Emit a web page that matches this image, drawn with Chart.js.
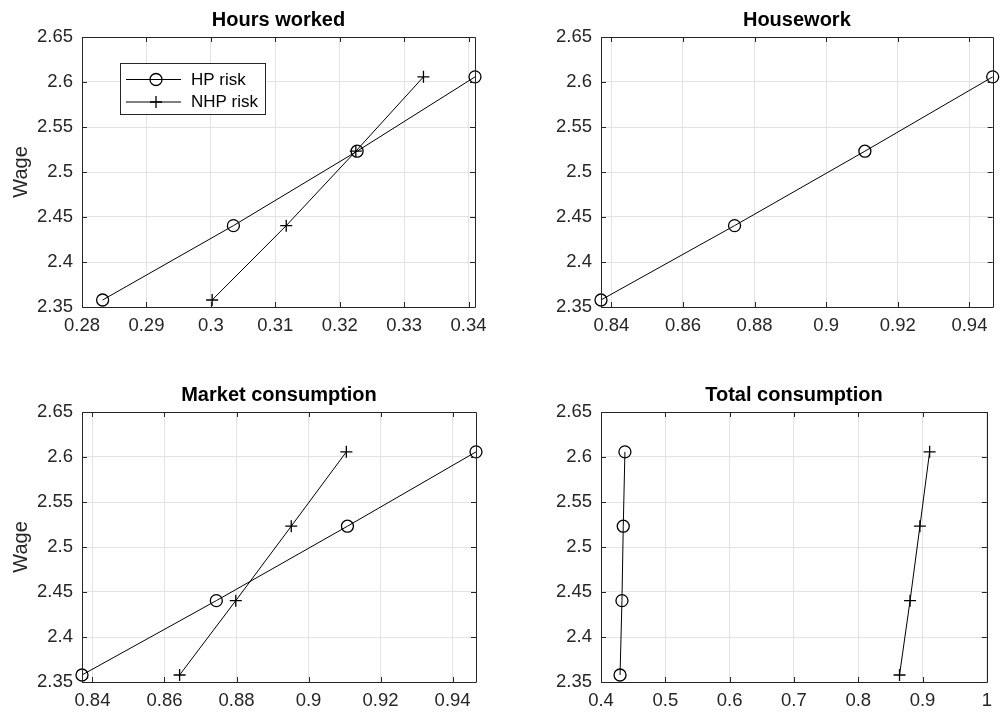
<!DOCTYPE html>
<html>
<head>
<meta charset="utf-8">
<script src="https://cdn.jsdelivr.net/npm/chart.js@4/dist/chart.umd.min.js"></script>
<style>
html,body{margin:0;padding:0;background:#fff;}
#wrap{position:relative;width:1000px;height:714px;overflow:hidden;background:#fff;}
canvas{position:absolute;}
</style>
</head>
<body>
<div id="wrap">
<canvas id="c1" width="500" height="339" style="left:0;top:0"></canvas>
<canvas id="c2" width="500" height="339" style="left:500px;top:0"></canvas>
<canvas id="c3" width="500" height="339" style="left:0;top:375px"></canvas>
<canvas id="c4" width="500" height="339" style="left:500px;top:375px"></canvas>
</div>
<script>
// ---- data ----
const wage = [2.3578, 2.4404, 2.5231, 2.6057];
const hoursHP = [0.2832, 0.3035, 0.3227, 0.3410];
const hoursNHP = [0.3002, 0.3117, 0.3225, 0.3330];
const houseworkHP = [0.8371, 0.8744, 0.9108, 0.9465];
const marketHP = [0.8371, 0.8744, 0.9108, 0.9465];
const marketNHP = [0.8642, 0.8798, 0.8952, 0.9105];
const totalHP = [0.4296, 0.4326, 0.4346, 0.4372];
const totalNHP = [0.8642, 0.8806, 0.8959, 0.9110];

const wageTicks = [2.35, 2.4, 2.45, 2.5, 2.55, 2.6, 2.65];
const hoursTicks = [0.28, 0.29, 0.30, 0.31, 0.32, 0.33, 0.34];
const houseTicks = [0.84, 0.86, 0.88, 0.90, 0.92, 0.94];
const marketTicks = [0.84, 0.86, 0.88, 0.90, 0.92, 0.94];
const totalTicks = [0.4, 0.5, 0.6, 0.7, 0.8, 0.9, 1.0];

const titles = ['Hours worked', 'Housework', 'Market consumption', 'Total consumption'];
const seriesNames = ['HP risk', 'NHP risk'];

const FONT = '"Liberation Sans", Arial, Helvetica, sans-serif';
const AXC = '#262626';

function pts(xs) { return xs.map((x, i) => ({x: x, y: wage[i]})); }

function hpSet(xs) {
  return {label: seriesNames[0], data: pts(xs), showLine: true, borderColor: '#000', borderWidth: 1,
    pointStyle: 'circle', pointRadius: 6, pointBorderWidth: 1.3, pointBorderColor: '#000',
    pointBackgroundColor: 'rgba(0,0,0,0)', clip: false};
}
function nhpSet(xs) {
  return {label: seriesNames[1], data: pts(xs), showLine: true, borderColor: '#000', borderWidth: 1,
    pointStyle: 'cross', pointRadius: 6, pointBorderWidth: 1.3, pointBorderColor: '#000',
    pointBackgroundColor: 'rgba(0,0,0,0)', clip: false};
}

const fmt = v => String(+(+v).toFixed(4));

const boxPlugin = {
  id: 'matlabBox',
  afterDraw(chart, args, opts) {
    const {ctx, chartArea: a, scales} = chart;
    ctx.save();
    ctx.strokeStyle = AXC;
    ctx.lineWidth = 1;
    ctx.beginPath();
    ctx.rect(Math.round(a.left) + 0.5, Math.round(a.top) + 0.5, Math.round(a.right - a.left), Math.round(a.bottom - a.top));
    ctx.stroke();
    const tl = 5;
    ctx.beginPath();
    scales.x.ticks.forEach(t => {
      const px = Math.round(scales.x.getPixelForValue(t.value)) + 0.5;
      ctx.moveTo(px, a.bottom); ctx.lineTo(px, a.bottom - tl);
      ctx.moveTo(px, a.top); ctx.lineTo(px, a.top + tl);
    });
    scales.y.ticks.forEach(t => {
      const py = Math.round(scales.y.getPixelForValue(t.value)) + 0.5;
      ctx.moveTo(a.left, py); ctx.lineTo(a.left + tl, py);
      ctx.moveTo(a.right, py); ctx.lineTo(a.right - tl, py);
    });
    ctx.stroke();
    // title
    ctx.fillStyle = '#000';
    ctx.font = 'bold 20px ' + FONT;
    ctx.textAlign = 'center';
    ctx.textBaseline = 'middle';
    ctx.fillText(opts.title, (a.left + a.right) / 2, opts.titleY);
    // legend
    if (opts.legend) {
      const L = opts.legend;
      ctx.fillStyle = '#fff';
      ctx.fillRect(L.x, L.y, L.w, L.h);
      ctx.strokeStyle = '#262626';
      ctx.strokeRect(L.x + 0.5, L.y + 0.5, L.w, L.h);
      const rows = [L.y + 16, L.y + 38.5];
      ctx.strokeStyle = '#000';
      ctx.lineWidth = 1;
      rows.forEach((ry, i) => {
        ctx.beginPath();
        ctx.moveTo(L.x + 6, ry + 0.5); ctx.lineTo(L.x + 61, ry + 0.5);
        ctx.stroke();
        ctx.lineWidth = 1.3;
        ctx.beginPath();
        const mx = L.x + 36;
        if (i === 0) { ctx.arc(mx, ry + 0.5, 6, 0, Math.PI * 2); }
        else { ctx.moveTo(mx - 6, ry + 0.5); ctx.lineTo(mx + 6, ry + 0.5); ctx.moveTo(mx, ry - 5.5); ctx.lineTo(mx, ry + 6.5); }
        ctx.stroke();
        ctx.lineWidth = 1;
        ctx.fillStyle = '#000';
        ctx.font = '17px ' + FONT;
        ctx.textAlign = 'left';
        ctx.textBaseline = 'middle';
        ctx.fillText(seriesNames[i], L.x + 71, ry + 1);
      });
    }
    ctx.restore();
  }
};

function makeChart(id, datasets, xmin, xmax, xticks, padL, padR, showWage, title, legend) {
  return new Chart(document.getElementById(id), {
    type: 'scatter',
    data: {datasets: datasets},
    plugins: [boxPlugin],
    options: {
      responsive: false, animation: false, devicePixelRatio: 1,
      layout: {padding: {left: padL, right: padR, top: 37, bottom: 0}},
      plugins: {legend: {display: false}, tooltip: {enabled: false}, title: {display: false},
        matlabBox: {title: title, titleY: 20, legend: legend}},
      scales: {
        x: {type: 'linear', min: xmin, max: xmax,
          afterBuildTicks: s => { s.ticks = xticks.map(v => ({value: v})); },
          afterFit: s => { s.height = 32; },
          grid: {color: '#e3e3e3', lineWidth: 1, drawTicks: false},
          border: {display: false},
          ticks: {color: AXC, font: {family: FONT, size: 18.5}, padding: 8, maxRotation: 0, autoSkip: false, callback: fmt}
        },
        y: {type: 'linear', min: 2.35, max: 2.65,
          afterBuildTicks: s => { s.ticks = wageTicks.map(v => ({value: v})); },
          afterFit: s => { s.width = 82; },
          grid: {color: '#e3e3e3', lineWidth: 1, drawTicks: false},
          border: {display: false},
          title: {display: showWage, text: 'Wage', color: AXC, font: {family: FONT, size: 20}, padding: {top: 9, bottom: 0}},
          ticks: {color: AXC, font: {family: FONT, size: 18.5}, padding: 9, autoSkip: false, callback: fmt}
        }
      }
    }
  });
}

makeChart('c1', [hpSet(hoursHP), nhpSet(hoursNHP)], 0.28, 0.341, hoursTicks, 0, 25, true, titles[0],
  {x: 120, y: 63, w: 145, h: 51});
makeChart('c2', [hpSet(houseworkHP)], 0.8371, 0.9465, houseTicks, 19, 6, false, titles[1], null);
makeChart('c3', [hpSet(marketHP), nhpSet(marketNHP)], 0.8371, 0.9465, marketTicks, 0, 24, true, titles[2], null);
makeChart('c4', [hpSet(totalHP), nhpSet(totalNHP)], 0.4, 1.0, totalTicks, 19, 6, false, titles[3], null);
</script>
</body>
</html>
